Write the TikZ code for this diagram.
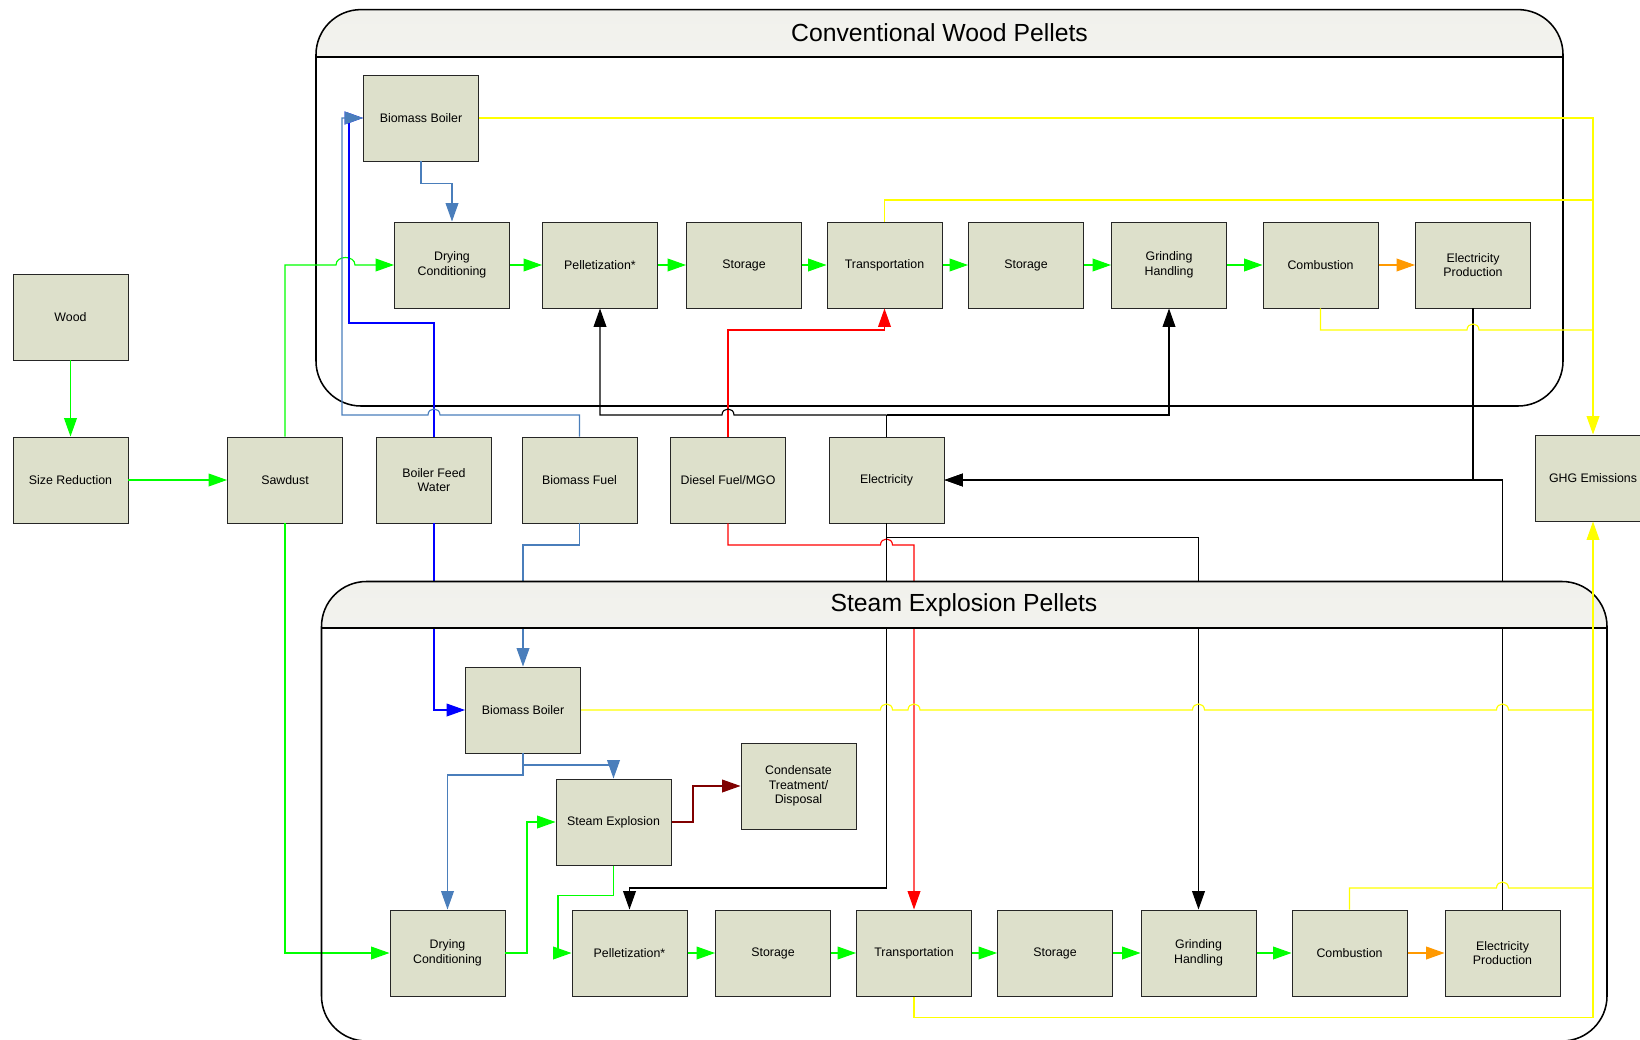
\documentclass[tikz,border=0pt]{standalone}
\usepackage{fontspec}
\setmainfont{Liberation Sans}
\usepackage{xcolor}
\usepackage{tikz}
\usetikzlibrary{arrows.meta}

\definecolor{boxfill}{RGB}{221,224,203}
\definecolor{hdrgray}{RGB}{241,241,236}
\definecolor{steel}{RGB}{74,126,187}
\definecolor{massgreen}{RGB}{0,255,0}
\definecolor{emisyellow}{RGB}{255,255,0}
\definecolor{energyorange}{RGB}{255,153,0}
\definecolor{wastered}{RGB}{128,0,0}

\begin{document}
\begin{tikzpicture}[ x = 0.25mm, y = -0.25mm,
    Block/.style = {draw = black!85, fill = boxfill, line width = 0.7pt,
                    minimum width = 28.75mm, minimum height = 21.5mm,
                    inner sep = 0pt, align = center,
                    font = \fontsize{8.8}{10.4}\selectfont},
    Group/.style = {draw = black, line width = 1.1pt, rounded corners = 11.25mm},
    Title/.style = {font = \fontsize{17.6}{20}\selectfont},
    Line/.style  = {line width = 0.8pt},
    Flow/.style  = {Line, -{Triangle[length = 4.6mm, width = 3.2mm]}} ]

    \useasboundingbox (0,0) rectangle (1640,1040);
    \clip (0,0) rectangle (1640,1040);

    % conventional chain frame
    \begin{scope}
      \clip (316,0) rectangle (1563,57);
      \shade[top color = hdrgray, bottom color = white, rounded corners = 11.25mm]
        (316,9.6) rectangle (1563,406);
    \end{scope}
    \draw[Group] (316,9.6) rectangle (1563,406);
    \draw[line width = 1.1pt] (316,57) -- (1563,57);
    \node[Title] (CTitle) at (939.5,33) {Conventional Wood Pellets};

    % inputs
    \node[Block] (Wood)    at (  70.5, 317) {Wood};
    \node[Block] (SizeRed) at (  70.5, 480) {Size Reduction};
    \node[Block] (Sawdust) at ( 285,   480) {Sawdust};
    \node[Block] (BFW)     at ( 434,   480) {Boiler Feed\\Water};
    \node[Block] (BFuel)   at ( 579.5, 480) {Biomass Fuel};
    \node[Block] (Diesel)  at ( 728,   480) {Diesel Fuel/MGO};
    \node[Block] (Elec)    at ( 886.5, 480) {Electricity};
    \node[Block] (GHG)     at (1593,   478) {GHG Emissions};

    % conventional
    \node[Block] (CBoil) at ( 421,   118) {Biomass Boiler};
    \node[Block] (CDry)  at ( 452,   265) {Drying\\Conditioning};
    \node[Block] (CPel)  at ( 600,   265) {Pelletization*};
    \node[Block] (CSto1) at ( 744,   265) {Storage};
    \node[Block] (CTra)  at ( 884.5, 265) {Transportation};
    \node[Block] (CSto2) at (1026,   265) {Storage};
    \node[Block] (CGri)  at (1169,   265) {Grinding\\Handling};
    \node[Block] (CCom)  at (1320.5, 265) {Combustion};
    \node[Block] (CEle)  at (1473,   265) {Electricity\\Production};

    % steam explosion
    \node[Block] (SBoil) at ( 523,   710) {Biomass Boiler};
    \node[Block] (SExp)  at ( 613.5, 822) {Steam Explosion};
    \node[Block] (Cond)  at ( 798.5, 786) {Condensate\\Treatment/\\Disposal};
    \node[Block] (SDry)  at ( 447.5, 953) {Drying\\Conditioning};
    \node[Block] (SPel)  at ( 629.5, 953) {Pelletization*};
    \node[Block] (SSto1) at ( 773,   953) {Storage};
    \node[Block] (STra)  at ( 914,   953) {Transportation};
    \node[Block] (SSto2) at (1055,   953) {Storage};
    \node[Block] (SGri)  at (1198.5, 953) {Grinding\\Handling};
    \node[Block] (SCom)  at (1349.5, 953) {Combustion};
    \node[Block] (SEle)  at (1502.5, 953) {Electricity\\Production};

    \coordinate (ElecUp) at (886.5,415);
    \coordinate (ElecDn) at (886.5,537.5);

    % material
    \tikzset{Mass/.style = {Flow, massgreen}}
    \draw[Mass] (Wood) -- (SizeRed);
    \draw[Mass] (SizeRed) -- (Sawdust);
    \draw[Mass] (Sawdust.north) -- (285,265) -- (336,265)
        .. controls (336,255) and (355,255) .. (355,265) -- (CDry.west);
    \draw[Mass] (Sawdust.south) |- (SDry.west);
    \draw[Mass] (SDry.east) -- (527,953) |- (SExp.west);
    \draw[Mass] (SExp.south) -- (613.5,895.5) -- (558,895.5) |- (SPel.west);
    \foreach \a/\b in {CDry/CPel, CPel/CSto1, CSto1/CTra, CTra/CSto2, CSto2/CGri, CGri/CCom,
                       SPel/SSto1, SSto1/STra, STra/SSto2, SSto2/SGri, SGri/SCom}
      \draw[Mass] (\a) -- (\b);
    \draw[Flow, energyorange] (CCom) -- (CEle);
    \draw[Flow, energyorange] (SCom) -- (SEle);

    % water and heat
    \draw[Flow, blue] (BFW.north) -- (434,323) -- (349,323) |- (CBoil.west);
    \draw[Flow, blue] (BFW.south) |- (SBoil.west);
    \tikzset{Heat/.style = {Flow, steel}}
    \draw[Heat] (BFuel.north) -- (579.5,415) -- (440,415)
        .. controls (440,407) and (428,407) .. (428,415) -- (342,415) |- (CBoil.west);
    \draw[Heat] (BFuel.south) -- (579.5,545) -| (SBoil.north);
    \draw[Heat] (CBoil.south) -- (421,183.5) -| (CDry.north);
    \draw[Heat] (SBoil.south) -- (523,765) -| (SExp.north);
    \draw[Heat] (SBoil.south) -- (523,775) -| (SDry.north);
    \draw[Flow, wastered] (SExp.east) -- (693,822) |- (Cond.west);

    % diesel
    \draw[Flow, red] (Diesel.north) -- (728,330) -| (CTra.south);
    \draw[Flow, red] (Diesel.south) -- (728,545) -- (880.5,545)
        .. controls (880.5,537) and (892.5,537) .. (892.5,545) -| (STra.north);

    % electricity
    \draw[Line] (Elec.north) -- (ElecUp);
    \draw[Flow] (ElecUp) -| (CGri.south);
    \draw[Flow] (ElecUp) -- (734,415)
        .. controls (734,407) and (722,407) .. (722,415) -| (CPel.south);
    \draw[Flow] (Elec.south) -- (886.5,888) -| (SPel.north);
    \draw[Flow] (ElecDn) -| (SGri.north);
    \draw[Flow] (CEle.south) |- (Elec.east);
    \draw[Flow] (SEle.north) |- (Elec.east);

    % emissions
    \tikzset{Emis/.style = {Flow, emisyellow}, EmisLine/.style = {Line, emisyellow}}
    \draw[Emis] (CBoil.east) -| (GHG.north);
    \draw[EmisLine] (CTra.north) |- (1593,200);
    \draw[EmisLine] (CCom.south) -- (1320.5,330) -- (1467,330)
        .. controls (1467,322) and (1479,322) .. (1479,330) -- (1593,330);
    \draw[EmisLine] (SBoil.east) -- (880.5,710)
        .. controls (880.5,702) and (892.5,702) .. (892.5,710) -- (908,710)
        .. controls (908,702) and (920,702) .. (920,710) -- (1192.5,710)
        .. controls (1192.5,702) and (1204.5,702) .. (1204.5,710) -- (1496.5,710)
        .. controls (1496.5,702) and (1508.5,702) .. (1508.5,710) -- (1593,710);
    \draw[EmisLine] (SCom.north) -- (1349.5,888) -- (1496.5,888)
        .. controls (1496.5,880) and (1508.5,880) .. (1508.5,888) -- (1593,888);

    % steam explosion frame, header on top of the lines
    \begin{scope}
      \clip (321.5,500) rectangle (1607,628);
      \shade[top color = hdrgray, bottom color = white, rounded corners = 11.25mm]
        (321.5,581.5) rectangle (1607,1041);
    \end{scope}
    \draw[Group] (321.5,581.5) rectangle (1607,1041);
    \draw[line width = 1.1pt] (321.5,628) -- (1607,628);
    \node[Title] (STitle) at (964,605) {Steam Explosion Pellets};

    % emission bus runs over the header
    \draw[Emis] (STra.south) -- (914,1017.5) -| (GHG.south);

\end{tikzpicture}
\end{document}
